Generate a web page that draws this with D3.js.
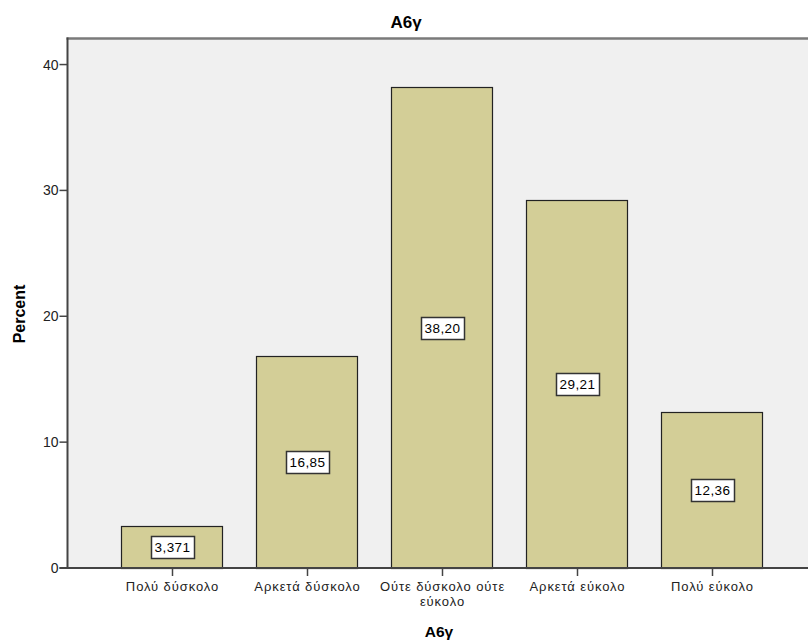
<!DOCTYPE html>
<html><head><meta charset="utf-8">
<script src="https://cdn.jsdelivr.net/npm/d3@7"></script>
<style>body{margin:0;background:#fff}svg{display:block}text{font-family:"Liberation Sans",Arial,sans-serif}</style>
</head><body>
<script>
const categories = ["Πολύ δύσκολο","Αρκετά δύσκολο","Ούτε δύσκολο ούτε εύκολο","Αρκετά εύκολο","Πολύ εύκολο"];
const categoryLines = [["Πολύ δύσκολο"],["Αρκετά δύσκολο"],["Ούτε δύσκολο ούτε","εύκολο"],["Αρκετά εύκολο"],["Πολύ εύκολο"]];
const percents = [3.371, 16.85, 38.20, 29.21, 12.36];
const valueLabels = ["3,371","16,85","38,20","29,21","12,36"];
const yTicks = [0,10,20,30,40];

const W=808,H=643;
const svg=d3.select("body").append("svg").attr("width",W).attr("height",H);
const pL=67.5, pR=808, pT=38.5, pB=568;

svg.append("rect").attr("x",pL).attr("y",pT).attr("width",pR-pL).attr("height",pB-pT).attr("fill","#f0f0f0");
svg.append("line").attr("x1",pL-1).attr("x2",pR).attr("y1",pT).attr("y2",pT).attr("stroke","#7a7a7a").attr("stroke-width",2.5);

const x=d3.scaleBand().domain(categories).range([104.5,779.5]).paddingInner(0.25).paddingOuter(0.125);
const y=d3.scaleLinear().domain([0,42.07]).range([pB,pT]);

svg.selectAll("rect.bar").data(percents).join("rect").attr("class","bar")
  .attr("x",(d,i)=>Math.round(x(categories[i]))+0.5).attr("y",d=>Math.round(y(d))+0.5)
  .attr("width",Math.round(x.bandwidth())).attr("height",d=>pB-Math.round(y(d)))
  .attr("fill","#d3ce97").attr("stroke","#222").attr("stroke-width",1.2);

// value labels
percents.forEach((d,i)=>{
  const cx=Math.round(x(categories[i])+x.bandwidth()/2)+0.5, cy=(y(d)+y(0))/2;
  const g=svg.append("g");
  const t=g.append("text").attr("x",cx).attr("y",cy+5).attr("text-anchor","middle").attr("font-size",13.5).attr("letter-spacing",0.4).attr("fill","#000").text(valueLabels[i]);
  const bb=t.node().getBBox();
  g.insert("rect","text").attr("x",Math.round(bb.x-4)+0.5).attr("y",Math.round(cy-11)+0.5).attr("width",Math.round(bb.width+7)).attr("height",22)
    .attr("fill","#fff").attr("stroke","#333").attr("stroke-width",1.5);
});

// y axis
const ya=svg.append("g").attr("transform",`translate(${pL},0)`);
ya.append("line").attr("x1",0).attr("x2",0).attr("y1",pT-1).attr("y2",pB).attr("stroke","#444").attr("stroke-width",2);
yTicks.forEach(v=>{
  ya.append("line").attr("x1",-8).attr("x2",0).attr("y1",y(v)).attr("y2",y(v)).attr("stroke","#444").attr("stroke-width",1.5);
  ya.append("text").attr("x",-9).attr("y",y(v)+5).attr("text-anchor","end").attr("font-size",14).attr("fill","#222").text(v);
});
// x axis
svg.append("line").attr("x1",pL-8).attr("x2",pR).attr("y1",pB).attr("y2",pB).attr("stroke","#444").attr("stroke-width",2);
categories.forEach((c,i)=>{
  const cx=Math.round(x(c)+x.bandwidth()/2)+0.5;
  svg.append("line").attr("x1",cx).attr("x2",cx).attr("y1",pB).attr("y2",pB+8).attr("stroke","#444").attr("stroke-width",1.5);
  const t=svg.append("text").attr("x",cx).attr("y",591).attr("text-anchor","middle").attr("font-size",13).attr("letter-spacing",0.9).attr("fill","#222");
  categoryLines[i].forEach((l,j)=>t.append("tspan").attr("x",cx).attr("dy",j?15:0).text(l));
});

svg.append("text").attr("x",406).attr("y",28).attr("text-anchor","middle").attr("font-size",17).attr("font-weight","bold").attr("fill","#000").text("A6γ");
svg.append("text").attr("x",439).attr("y",637).attr("text-anchor","middle").attr("font-size",15.5).attr("font-weight","bold").attr("fill","#000").text("A6γ");
svg.append("text").attr("transform","translate(25,314) rotate(-90)").attr("text-anchor","middle").attr("font-size",16).attr("font-weight","bold").attr("fill","#000").text("Percent");
</script>
</body></html>
